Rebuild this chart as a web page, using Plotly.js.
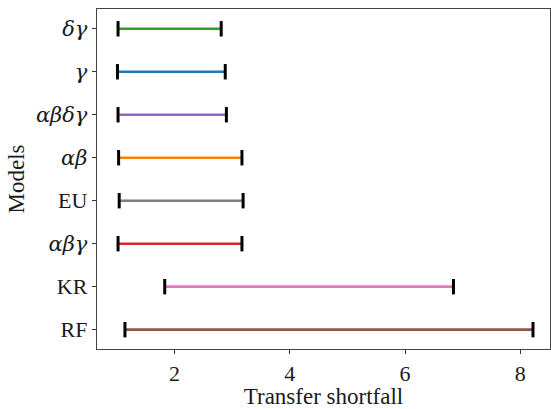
<!DOCTYPE html>
<html>
<head>
<meta charset="utf-8">
<script src="https://cdn.plot.ly/plotly-3.0.1.min.js"></script>
<style>html,body{margin:0;padding:0;background:#fff;}#chart{width:551px;height:409px;}</style>
</head>
<body>
<div id="chart"></div>
<script>
// Models listed bottom to top
const models = ["RF", "KR", "αβγ", "EU", "αβ", "αβδγ", "γ", "δγ"];
const greek  = [false, false, true, false, true, true, true, true];
const lows   = [1.14, 1.83, 1.02, 1.04, 1.03, 1.02, 1.01, 1.02];
const highs  = [8.22, 6.84, 3.17, 3.19, 3.17, 2.90, 2.88, 2.81];
const colors = ["#8c564b", "#e377c2", "#d62728", "#7f7f7f", "#ff7f0e", "#9467bd", "#1f77b4", "#2ca02c"];

const font = "'Liberation Serif', 'DejaVu Serif', serif";
const idx = models.map((_, i) => i);
const tickText = models.map((m, i) => greek[i]
  ? "<span style=\"font-family:'DejaVu Serif';font-size:21px;font-style:italic\">" + m + "</span>"
  : m);
const traces = [];
models.forEach((m, i) => {
  traces.push({
    type: "scatter", mode: "lines",
    x: [lows[i], highs[i]], y: [i, i],
    line: {color: colors[i], width: 2.6},
    hoverinfo: "skip", showlegend: false
  });
});
traces.push({
  type: "scatter", mode: "markers",
  x: lows.concat(highs), y: idx.concat(idx),
  marker: {symbol: "line-ns-open", size: 11, color: "#000", line: {color: "#000", width: 3}},
  showlegend: false, hoverinfo: "skip"
});

const layout = {
  width: 551, height: 409,
  margin: {l: 97, r: 1, t: 9, b: 60},
  paper_bgcolor: "#fff", plot_bgcolor: "#fff",
  font: {family: font, size: 22, color: "#1a1a1a"},
  showlegend: false,
  xaxis: {
    range: [0.655, 8.515],
    tickvals: [2, 4, 6, 8], ticktext: ["2", "4", "6", "8"],
    ticks: "outside", ticklen: 4, tickwidth: 1, tickcolor: "#333",
    showgrid: false, zeroline: false,
    showline: true, linecolor: "#444", linewidth: 1.2, mirror: true,
    tickfont: {family: font, size: 22, color: "#1a1a1a"},
    title: {text: "Transfer shortfall", font: {family: font, size: 23, color: "#1a1a1a"}, standoff: 4}
  },
  yaxis: {
    range: [-0.45, 7.46],
    tickvals: idx, ticktext: tickText,
    ticks: "outside", ticklen: 4, tickwidth: 1, tickcolor: "#333",
    showgrid: false, zeroline: false,
    showline: true, linecolor: "#444", linewidth: 1.2, mirror: true,
    tickfont: {family: font, size: 22, color: "#1a1a1a"},
    title: {text: "Models", font: {family: font, size: 23, color: "#1a1a1a"}, standoff: 4}
  }
};
Plotly.newPlot("chart", traces, layout, {staticPlot: true, displayModeBar: false});
</script>
</body>
</html>
